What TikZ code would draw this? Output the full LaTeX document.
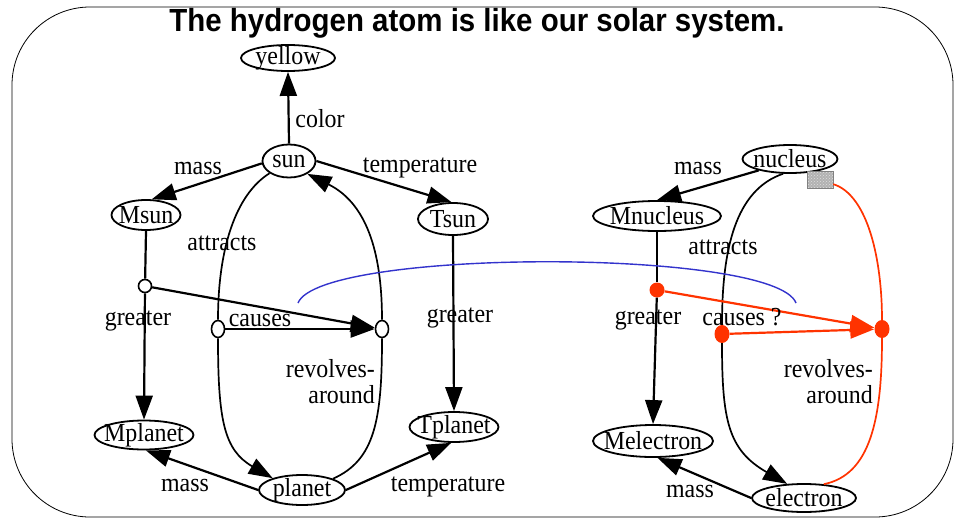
\documentclass[tikz,border=0pt]{standalone}
\usepackage{fontspec}
\setmainfont{Liberation Serif}[FakeStretch=0.92]
\newfontfamily\titlefont{Liberation Sans}[FakeStretch=0.92]
\usetikzlibrary{arrows.meta,shapes.geometric,patterns}
\definecolor{linkred}{RGB}{255,51,0}
\definecolor{mapblue}{RGB}{51,51,204}

\begin{document}
\begin{tikzpicture}[
  x=1pt, y=-1pt,
  font=\fontsize{26}{26}\selectfont,
  ell/.style 2 args={draw, ellipse, line width=1.8pt, inner sep=0pt, minimum width=#1, minimum height=#2},
  knot/.style={draw, fill=white, ellipse, line width=1.6pt, inner sep=0pt, minimum width=13pt, minimum height=17pt},
  redknot/.style={fill=linkred, ellipse, inner sep=0pt, minimum width=15pt, minimum height=18pt},
  link/.style={line width=2.2pt},
  linkarr/.style={line width=2.2pt, -{Triangle[length=24pt, width=17pt]}},
  curvearr/.style={line width=1.7pt, -{Triangle[length=24pt, width=17pt]}},
  lbl/.style={inner sep=0pt}
]
  \useasboundingbox (0,0) rectangle (969,522);
  \draw[line width=0.8pt, rounded corners=78pt] (12,7) rectangle (953,517);
  \node[font=\titlefont\fontsize{32}{34}\bfseries\selectfont] (title) at (477,23) {The hydrogen atom is like our solar system.};

  \node[ell={94}{26}, label=center:yellow] (yellow) at (288,58) {};
  \node[ell={53}{33}, label=center:sun] (sun) at (289,161) {};
  \node[ell={69}{30}, label=center:Msun] (msun) at (146,215) {};
  \node[ell={70}{32}, label=center:Tsun] (tsun) at (453,219) {};
  \node[ell={99}{29}, label=center:Mplanet] (mplanet) at (144,435) {};
  \node[ell={86}{30}, label=center:planet] (planet) at (302,490) {};
  \node[ell={89}{30}, label=center:Tplanet] (tplanet) at (454,427) {};
  \node[knot, minimum height=13pt] (jleft) at (145,286) {};
  \node[knot] (cleft) at (218,329) {};
  \node[knot] (cright) at (382,329) {};

  \node[ell={95}{28}, label=center:nucleus] (nucleus) at (790,159) {};
  \node[ell={128}{30}, label=center:Mnucleus] (mnucleus) at (657,216) {};
  \node[ell={120}{32}, label=center:Melectron] (melectron) at (653,441) {};
  \node[ell={104}{28}, label=center:electron] (electron) at (804,498) {};
  \node[redknot, minimum height=15pt] (jright) at (657,290) {};
  \node[redknot] (cleft2) at (722,334) {};
  \node[redknot] (cright2) at (882,329) {};
  \node[draw=gray, preaction={fill=gray!60}, pattern=crosshatch dots, pattern color=gray!25, minimum width=26pt, minimum height=17pt, inner sep=0pt] (hatch) at (820,180) {};

  \draw[linkarr] (sun.north) -- (yellow.south);
  \draw[linkarr] (sun.185) -- (msun.70);
  \draw[linkarr] (sun.east) -- (tsun.95);
  \draw[link] (msun.south) -- (jleft);
  \draw[linkarr] (jleft) -- (mplanet.north);
  \draw[linkarr] (jleft) -- (cright);
  \draw[linkarr] (cleft) -- (cright);
  \draw[linkarr] (tsun.south) -- (tplanet.north);
  \draw[linkarr] (planet.west) -- (mplanet.-83);
  \draw[linkarr] (planet.east) -- (tplanet.-100);
  \draw[curvearr] (sun) .. controls (235,195) and (218,250) .. (cleft.north)
    (cleft.south) .. controls (218,420) and (224,450) .. (planet.158);
  \draw[curvearr] (planet.20) .. controls (375,460) and (382,420) .. (cright.south)
    (cright.north) .. controls (382,260) and (370,205) .. (sun.-35);

  \draw[linkarr] (nucleus.200) -- (mnucleus.north);
  \draw[link] (mnucleus.south) -- (jright);
  \draw[linkarr] (jright) -- (melectron.north);
  \draw[linkarr] (electron.west) -- (melectron.-75);
  \draw[curvearr] (nucleus.-115) .. controls (735,190) and (722,250) .. (cleft2.north)
    (cleft2.south) .. controls (722,420) and (728,450) .. (electron.140);
  \draw[linkred, line width=1.7pt] (electron.35) .. controls (870,475) and (882,420) .. (cright2.south)
    (cright2.north) .. controls (882,260) and (868,195) .. (hatch);
  \draw[linkarr, linkred] (jright) -- (cright2);
  \draw[linkarr, linkred] (cleft2) -- (cright2);

  \coordinate (mapl) at (298,303);
  \coordinate (mapr) at (796,303);
  \draw[mapblue, line width=1.4pt] (mapl) .. controls (320,248) and (775,248) .. (mapr);

  \node[lbl] (lcolor) at (320,119) {color};
  \node[lbl] (lmass1) at (198,168) {mass};
  \node[lbl] (ltemp1) at (420,168) {temperature};
  \node[lbl] (lattr1) at (222,243) {attracts};
  \node[lbl] (lgreat1) at (138,321) {greater};
  \node[lbl] (lcause1) at (260,320) {causes};
  \node[lbl] (lgreat2) at (460,318) {greater};
  \node[lbl, align=right, anchor=east] (lrev1) at (375,382) {revolves-\\around};
  \node[lbl] (lmass2) at (185,485) {mass};
  \node[lbl] (ltemp2) at (448,487) {temperature};

  \node[lbl] (lmass3) at (698,168) {mass};
  \node[lbl] (lattr2) at (723,247) {attracts};
  \node[lbl] (lgreat3) at (648,320) {greater};
  \node[lbl] (lcause2) at (742,317) {causes ?};
  \node[lbl, align=right, anchor=east] (lrev2) at (873,382) {revolves-\\around};
  \node[lbl] (lmass4) at (690,491) {mass};
\end{tikzpicture}
\end{document}
